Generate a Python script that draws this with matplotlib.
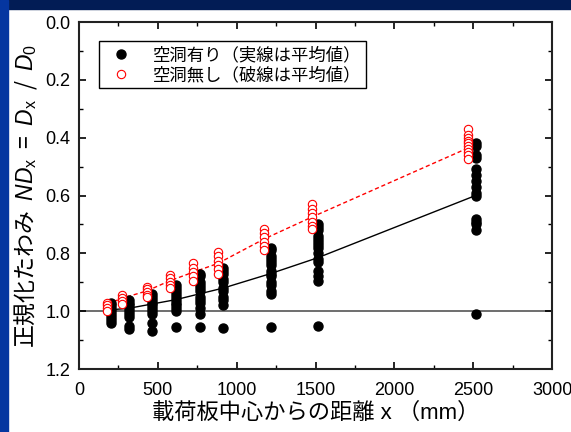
import matplotlib
matplotlib.use("Agg")
import matplotlib.pyplot as plt
from matplotlib.patches import Rectangle

plt.rcParams["font.family"] = ["Liberation Sans", "Noto Sans CJK JP", "DejaVu Sans"]
plt.rcParams["mathtext.fontset"] = "custom"
plt.rcParams["mathtext.rm"] = "Liberation Sans"
plt.rcParams["mathtext.it"] = "Liberation Sans:italic"

# x positions of the measurement columns (mm)
x_with = [205, 315, 465, 615, 765, 915, 1215, 1515, 2515]
x_without = [180, 275, 430, 575, 725, 880, 1175, 1475, 2470]

# normalised deflection, with cavity (black)
nd_with = [
    [0.97, 0.98, 0.99, 1.00, 1.01, 1.02, 1.03, 1.04],
    [0.96, 0.97, 0.98, 0.99, 1.00, 1.01, 1.02, 1.05, 1.06],
    [0.94, 0.95, 0.96, 0.97, 0.98, 0.99, 1.00, 1.01, 1.04, 1.07],
    [0.91, 0.92, 0.93, 0.94, 0.95, 0.96, 0.97, 0.98, 0.99, 1.00, 1.055],
    [0.87, 0.88, 0.90, 0.91, 0.92, 0.93, 0.95, 0.96, 0.97, 0.99, 1.01, 1.055],
    [0.85, 0.86, 0.87, 0.89, 0.90, 0.92, 0.93, 0.95, 0.96, 0.98, 1.057],
    [0.78, 0.79, 0.81, 0.82, 0.83, 0.84, 0.86, 0.87, 0.88, 0.90, 0.91, 0.93, 0.94, 1.055],
    [0.70, 0.71, 0.72, 0.74, 0.75, 0.76, 0.77, 0.78, 0.80, 0.82, 0.83, 0.86, 0.88, 0.895, 1.05],
    [0.42, 0.43, 0.46, 0.47, 0.51, 0.53, 0.55, 0.57, 0.59, 0.60, 0.68, 0.69, 0.70, 0.72, 1.01],
]
mean_with = [0.995, 0.99, 0.975, 0.96, 0.94, 0.92, 0.87, 0.815, 0.60]

# normalised deflection, without cavity (red)
nd_without = [
    [0.97, 0.98, 0.99, 1.00],
    [0.945, 0.955, 0.965, 0.975],
    [0.915, 0.925, 0.935, 0.945, 0.95],
    [0.875, 0.885, 0.90, 0.91, 0.92],
    [0.835, 0.85, 0.865, 0.88, 0.895],
    [0.795, 0.81, 0.825, 0.84, 0.855, 0.87],
    [0.715, 0.73, 0.745, 0.76, 0.775, 0.79],
    [0.63, 0.645, 0.66, 0.675, 0.69, 0.705, 0.715],
    [0.37, 0.39, 0.40, 0.41, 0.42, 0.43, 0.44, 0.45, 0.46, 0.475],
]
mean_without = [0.975, 0.955, 0.93, 0.895, 0.865, 0.835, 0.75, 0.675, 0.435]

label_with = "空洞有り（実線は平均値）"
label_without = "空洞無し（破線は平均値）"

fig = plt.figure(figsize=(5.71, 4.32), dpi=100)
fig.patch.set_facecolor("white")
# slide frame: navy band on top, blue strip on left
fig.patches.append(Rectangle((0, 1 - 9 / 432), 1, 9 / 432, transform=fig.transFigure,
                             color="#021c55", zorder=0))
fig.patches.append(Rectangle((0, 0), 8 / 571, 1, transform=fig.transFigure,
                             color="#0536a0", zorder=0))

ax = fig.add_axes([0.1384, 0.1458, 0.8284, 0.8032])

ax.axhline(1.0, color="#555555", lw=1.2, zorder=1)
ax.plot(x_with, mean_with, color="black", lw=1, zorder=2)
ax.plot(x_without, mean_without, color="red", lw=1, ls=(0, (3, 2)), zorder=2)

for i in range(len(x_with)):
    ax.plot([x_with[i]] * len(nd_with[i]), nd_with[i], "o", color="black", ms=6.5,
            zorder=3, label=label_with if i == 0 else None)
for i in range(len(x_without)):
    ax.plot([x_without[i]] * len(nd_without[i]), nd_without[i], "o", mfc="white",
            mec="red", mew=0.8, ms=6, zorder=4, label=label_without if i == 0 else None)

ax.set_xlim(0, 3000)
ax.set_ylim(1.2, 0.0)
ax.set_xticks(range(0, 3001, 500))
ax.set_xticks(range(250, 3000, 500), minor=True)
ax.set_yticks([0.0, 0.2, 0.4, 0.6, 0.8, 1.0, 1.2])
ax.set_yticks([0.1, 0.3, 0.5, 0.7, 0.9, 1.1], minor=True)
ax.set_yticklabels(["0.0", "0.2", "0.4", "0.6", "0.8", "1.0", "1.2"])
ax.tick_params(which="both", direction="in", top=True, right=True, labelsize=13, colors="black")
ax.tick_params(which="major", length=5, width=1.2)
ax.tick_params(which="minor", length=3, width=1.0)
ax.tick_params(axis="x", pad=9)
ax.tick_params(axis="y", pad=6)
for s in ax.spines.values():
    s.set_linewidth(1.5)
    s.set_color("#222222")

ax.set_xlabel("載荷板中心からの距離 x （mm）", fontsize=16, labelpad=3)
# non-math part of a mathtext string uses the first family only, so give it the CJK font
ax.set_ylabel(r"正規化たわみ  $ND_{\mathrm{x}}$  =  $D_{\mathrm{x}}$  /  $D_{0}$", fontsize=16.5,
              labelpad=5, family="Noto Sans CJK JP")

leg = ax.legend(loc="upper left", bbox_to_anchor=(0.042, 0.945), borderaxespad=0,
                fontsize=12.5, fancybox=False, edgecolor="black", framealpha=1,
                handletextpad=0.8, borderpad=0.3, labelspacing=0.2)
leg.get_frame().set_linewidth(1.0)

fig.savefig("out.png", dpi=100)
